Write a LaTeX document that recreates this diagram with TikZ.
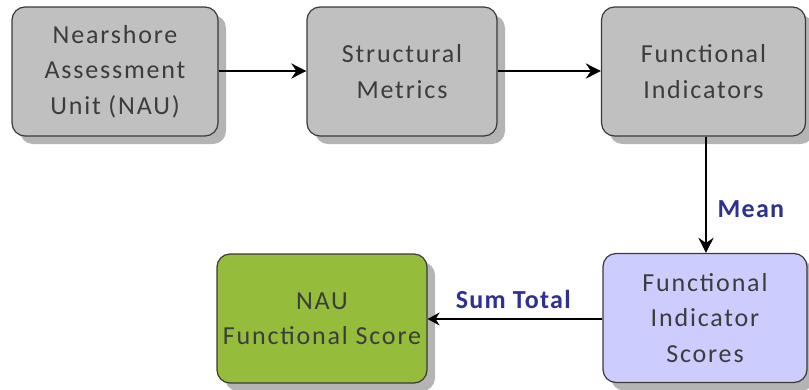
\documentclass[tikz,border=0pt]{standalone}
\usepackage{fontspec}
\setmainfont{Carlito}
\usetikzlibrary{arrows.meta,shadows}
\definecolor{boxgray}{HTML}{C0C0C0}
\definecolor{boxline}{HTML}{3A3A3A}
\definecolor{txtgray}{HTML}{3C3C3C}
\definecolor{scorepurple}{HTML}{CCCCFF}
\definecolor{scoregreen}{HTML}{95BC3A}
\definecolor{labelblue}{HTML}{2E3192}
\definecolor{shadowgray}{HTML}{B4B4B4}
\tikzset{
  stagebox/.style={draw=boxline, line width=1.2pt, rounded corners=13pt,
    minimum width=206pt, minimum height=129pt, align=center,
    text=txtgray, font=\fontsize{26}{35.5}\selectfont\addfontfeatures{LetterSpace=7},
    drop shadow={shadow xshift=8pt, shadow yshift=-8pt, fill=shadowgray, opacity=1}},
  flow/.style={-{Stealth[length=15pt,width=15pt,inset=5pt]}, line width=2.6pt},
  thinflow/.style={-{Stealth[length=12pt,width=13pt,inset=4pt]}, line width=1.6pt},
  oplabel/.style={text=labelblue, font=\fontsize{26}{30}\selectfont\bfseries\addfontfeatures{LetterSpace=5}}
}
\begin{document}
\begin{tikzpicture}[x=1pt,y=-1pt]
\useasboundingbox (0,0) rectangle (809,389);
\node[stagebox, fill=boxgray] (nau) at (115,71.5) {Nearshore\\Assessment\\Unit (NAU)};
\node[stagebox, fill=boxgray, minimum width=190pt] (struct) at (402,71.5) {Structural\\Metrics};
\node[stagebox, fill=boxgray, minimum width=204pt] (ind) at (703.5,71.5) {Functional\\Indicators};
\node[stagebox, fill=scorepurple, minimum width=204pt] (scores) at (705,318) {Functional\\Indicator\\Scores};
\node[stagebox, fill=scoregreen, minimum width=210pt] (final) at (322,318.5) {NAU\\Functional Score};
\draw[flow] (nau.east |- 0,71) -- (struct.west |- 0,71);
\draw[flow] (struct.east |- 0,71) -- (ind.west |- 0,71);
\draw[flow] (ind.south -| 706,0) -- (scores.north -| 706,0)
  node[oplabel, pos=0.62, right=7pt] (mean) {Mean};
\draw[thinflow] (scores.west |- 0,319) -- (final.east |- 0,319)
  node[oplabel, pos=0.51, above=6pt] (sum) {Sum Total};
\end{tikzpicture}
\end{document}
